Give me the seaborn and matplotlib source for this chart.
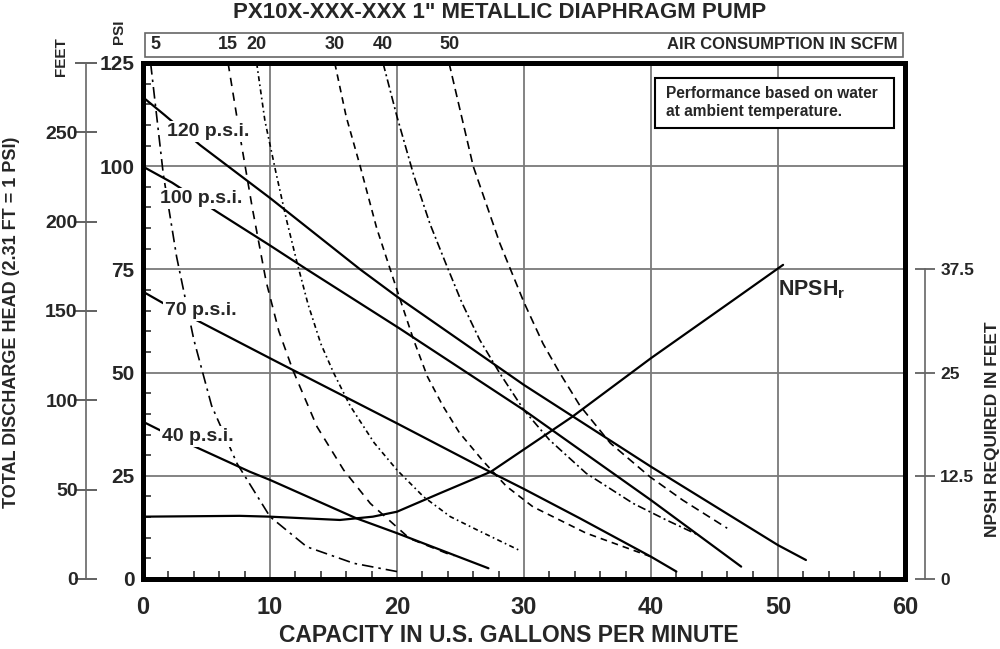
import matplotlib
matplotlib.use('Agg')
import matplotlib.pyplot as plt
import matplotlib.transforms as mtransforms
from matplotlib.patches import Rectangle
from matplotlib.ticker import MultipleLocator
import seaborn as sns

# --- curvas de pressao (GPM x PSI) ---
gpm_120 = [0, 1.7, 4.5, 10, 17.1, 20, 28.6, 30, 40, 50, 52.2]
psi_120 = [116.7, 112.4, 105.1, 92.3, 75, 68.4, 50, 47, 27.2, 8.2, 4.6]
gpm_100 = [0, 2.3, 5.9, 10, 12.9, 20.2, 25.5, 30, 40, 47.1]
psi_100 = [99.9, 96, 88.8, 80.8, 75, 60.7, 50, 40.9, 19.1, 3.0]
gpm_70 = [0, 1.6, 4.6, 10.3, 12.2, 20, 27.3, 30, 34.4, 40, 42]
psi_70 = [69.6, 66.8, 62.1, 53, 50, 37.7, 26, 21.8, 14.7, 5.4, 1.8]
gpm_40 = [0, 1.3, 4.35, 8.4, 10, 16.8, 20, 27.2]
psi_40 = [38.1, 36.1, 31.7, 26, 24, 14.7, 11.1, 2.6]

# --- curvas de consumo de ar (SCFM) ---
gpm_a5 = [0.6, 1.6, 2.65, 4, 5.4, 7.4, 10, 12.9, 16.6, 20]
psi_a5 = [125, 98, 78, 58, 42, 28, 15.1, 7.8, 3.8, 1.8]
gpm_a15 = [6.7, 7.6, 8.6, 9.7, 10.7, 11.8, 13.7, 15.8, 17.9, 21, 24.5]
psi_a15 = [125, 108, 90, 72, 60, 50.6, 36.9, 26.4, 18.3, 9.8, 5.5]
gpm_a20 = [8.95, 9.6, 10.5, 11.3, 12.1, 13, 14, 15, 16.3, 18.2, 20, 22.1, 24.2, 26.3, 29.6]
psi_a20 = [125, 111, 98, 87, 77, 66.5, 57, 50, 42, 33, 26.4, 19.9, 15.1, 11.9, 7.0]
gpm_a30 = [15.1, 16, 17.1, 18.4, 20, 21.3, 22.4, 23.6, 24.9, 26.8, 28.6, 30.7, 34.9, 40]
psi_a30 = [125, 112, 100, 85, 70, 58, 49, 42, 35.5, 28.5, 22.5, 17.5, 11.1, 5.4]
gpm_a40 = [18.9, 20, 21.3, 22.6, 23.9, 25.1, 26.5, 28.1, 30, 32, 34.9, 38.6, 41.2, 43.7]
psi_a40 = [125, 112, 98, 86, 76, 67, 58, 49.8, 40.9, 33.7, 25.6, 18.3, 14.3, 10.7]
gpm_a50 = [24.1, 26, 28.1, 30, 31.5, 32.8, 34.4, 36.8, 39.9, 42.5, 46]
psi_a50 = [125, 100, 81.3, 67, 57, 50, 42, 32.9, 24.8, 19.1, 12.3]

# --- NPSH requerido (GPM x pes) ---
gpm_npsh = [0, 7.6, 10, 15.5, 18.1, 20, 23.4, 27.4, 33.8, 40, 46.5, 50.4]
ft_npsh = [7.55, 7.65, 7.55, 7.15, 7.55, 8.15, 10.4, 13, 19.65, 26.75, 33.8, 38.05]

curvas_psi = [(gpm_120, psi_120), (gpm_100, psi_100), (gpm_70, psi_70), (gpm_40, psi_40)]
rotulos_psi = ['120 p.s.i.', '100 p.s.i.', '70 p.s.i.', '40 p.s.i.']
curvas_ar = [(gpm_a5, psi_a5), (gpm_a15, psi_a15), (gpm_a20, psi_a20),
             (gpm_a30, psi_a30), (gpm_a40, psi_a40), (gpm_a50, psi_a50)]
rotulos_ar = ['5', '15', '20', '30', '40', '50']

x_ticks = [0, 10, 20, 30, 40, 50, 60]
psi_ticks = [0, 25, 50, 75, 100, 125]
feet_ticks = [0, 50, 100, 150, 200, 250]
npsh_ticks = [0, 12.5, 25, 37.5]
npsh_labels = ['0', '12.5', '25', '37.5']

sns.set_theme(style='white')
plt.rcParams['font.family'] = ['Liberation Sans', 'DejaVu Sans']
plt.rcParams['font.weight'] = 'bold'
plt.rcParams['mathtext.fontset'] = 'custom'
plt.rcParams['mathtext.rm'] = 'Liberation Sans:bold'
plt.rcParams['mathtext.bf'] = 'Liberation Sans:bold'

fig = plt.figure(figsize=(10, 6.49), dpi=100)
ax = fig.add_axes([0.143, 0.10786, 0.762, 0.79507])
ax.set_xlim(0, 60)
ax.set_ylim(0, 125)

# grade e moldura
ax.grid(which='major', color='#7a7a7a', lw=1.3)
ax.xaxis.set_minor_locator(MultipleLocator(2))
ax.yaxis.set_minor_locator(MultipleLocator(5))
ax.set_xticks(x_ticks, [str(v) for v in x_ticks], fontsize=17, fontweight='bold')
ax.set_yticks(psi_ticks, [str(v) for v in psi_ticks], fontsize=15, fontweight='bold')
ax.tick_params(which='major', length=0)
ax.tick_params(axis='x', which='major', pad=12)
ax.tick_params(axis='y', which='major', pad=6)
ax.tick_params(which='minor', direction='in', length=6, width=1.2, color='#333333',
               bottom=True, left=True, top=False, right=False)
for s in ax.spines.values():
    s.set_color('black')
    s.set_linewidth(3.6)
    s.set_zorder(6)

# curvas de ar
estilos_ar = [(0, (7, 3, 1.5, 3)), (0, (5, 4)), (0, (3, 2, 1, 2)),
              (0, (4, 3)), (0, (5, 2, 1.2, 2)), (0, (5, 3))]
for (xs, ys), ls in zip(curvas_ar, estilos_ar):
    sns.lineplot(x=xs, y=ys, ax=ax, color='black', lw=1.2, linestyle=ls,
                 sort=False, estimator=None)

# curvas de pressao
for xs, ys in curvas_psi:
    sns.lineplot(x=xs, y=ys, ax=ax, color='black', lw=1.6, sort=False, estimator=None)

# rotulos das curvas de pressao
pos_rotulos = [(5.1, 108.4), (4.6, 92.2), (4.55, 65), (4.3, 34.5)]
for txt, (xr, yr) in zip(rotulos_psi, pos_rotulos):
    ax.text(xr, yr, txt, ha='center', va='center', fontsize=14, fontweight='bold',
            bbox=dict(facecolor='white', edgecolor='none', pad=1.5), zorder=5)

# caixa de consumo de ar
trans = mtransforms.blended_transform_factory(ax.transData, ax.transAxes)
ax.add_patch(Rectangle((0.16, 1.0116), 59.68, 0.0465, transform=trans, clip_on=False,
                       facecolor='white', edgecolor='#666666', lw=1.2))
for (xs, ys), lab in zip(curvas_ar, rotulos_ar):
    ax.text(max(xs[0], 0.95), 1.035, lab, transform=trans, ha='center', va='center',
            fontsize=13, fontweight='bold')
ax.text(59.4, 1.035, 'AIR CONSUMPTION IN SCFM', transform=trans, ha='right', va='center',
        fontsize=12, fontweight='bold')

# nota
ax.add_patch(Rectangle((40.3, 109.3), 18.8, 12.1, facecolor='white', edgecolor='black',
                       lw=1.5, zorder=4))
ax.text(41.2, 115.4, 'Performance based on water\nat ambient temperature.', ha='left',
        va='center', fontsize=11.2, fontweight='bold', linespacing=1.25, zorder=5)

# eixo em pes (esquerda)
ax_ft = ax.twinx()
ax_ft.set_ylim(0, 125 * 2.31)
ax_ft.yaxis.set_ticks_position('left')
for s in ['right', 'top', 'bottom']:
    ax_ft.spines[s].set_visible(False)
ax_ft.spines['left'].set_visible(True)
ax_ft.spines['left'].set_position(('outward', 41))
ax_ft.spines['left'].set_bounds(0, 125 * 2.31)
ax_ft.spines['left'].set_color('#666666')
ax_ft.spines['left'].set_linewidth(1.2)
ax_ft.set_yticks(feet_ticks + [125 * 2.31], [str(v) for v in feet_ticks] + [''],
                 fontsize=14, fontweight='bold')
ax_ft.tick_params(axis='y', which='major', direction='inout', length=16, width=1.3,
                  color='#555555', pad=-2, left=True, right=False)
ax_ft.tick_params(axis='y', which='minor', length=0)

# eixo NPSH (direita)
ax_np = ax.twinx()
ax_np.set_ylim(0, 62.5)
for s in ['left', 'top', 'bottom']:
    ax_np.spines[s].set_visible(False)
ax_np.spines['right'].set_position(('outward', 14.4))
ax_np.spines['right'].set_bounds(0, 37.5)
ax_np.spines['right'].set_color('#666666')
ax_np.spines['right'].set_linewidth(1.2)
ax_np.set_yticks(npsh_ticks, npsh_labels, fontsize=12.5, fontweight='bold')
ax_np.tick_params(axis='y', which='major', direction='inout', length=14, width=1.2,
                  color='#555555', pad=4, right=True, left=False)
ax_np.tick_params(axis='y', which='minor', length=0)
sns.lineplot(x=gpm_npsh, y=ft_npsh, ax=ax_np, color='black', lw=1.6, sort=False,
             estimator=None)
ax_np.text(50.0, 35.0, r'NPSH$_{\mathbf{r}}$', ha='left', va='center', fontsize=15.5,
           fontweight='bold')

# textos da figura
fig.text(0.5, 1 - 12 / 649, 'PX10X-XXX-XXX 1" METALLIC DIAPHRAGM PUMP', ha='center',
         va='center', fontsize=16, fontweight='bold')
fig.text(0.509, 1 - 636 / 649, 'CAPACITY IN U.S. GALLONS PER MINUTE', ha='center',
         va='center', fontsize=16.5, fontweight='bold')
fig.text(0.012, 1 - 322 / 649, 'TOTAL DISCHARGE HEAD (2.31 FT = 1 PSI)', ha='center',
         va='center', rotation=90, fontsize=13, fontweight='bold')
fig.text(0.993, 1 - 429 / 649, 'NPSH REQUIRED IN FEET', ha='center', va='center',
         rotation=90, fontsize=12.5, fontweight='bold')
fig.text(0.061, 1 - 57 / 649, 'FEET', ha='center', va='center', rotation=90,
         fontsize=11, fontweight='bold')
fig.text(0.119, 1 - 32 / 649, 'PSI', ha='center', va='center', rotation=90,
         fontsize=11, fontweight='bold')

fig.savefig('out.png', dpi=100)
